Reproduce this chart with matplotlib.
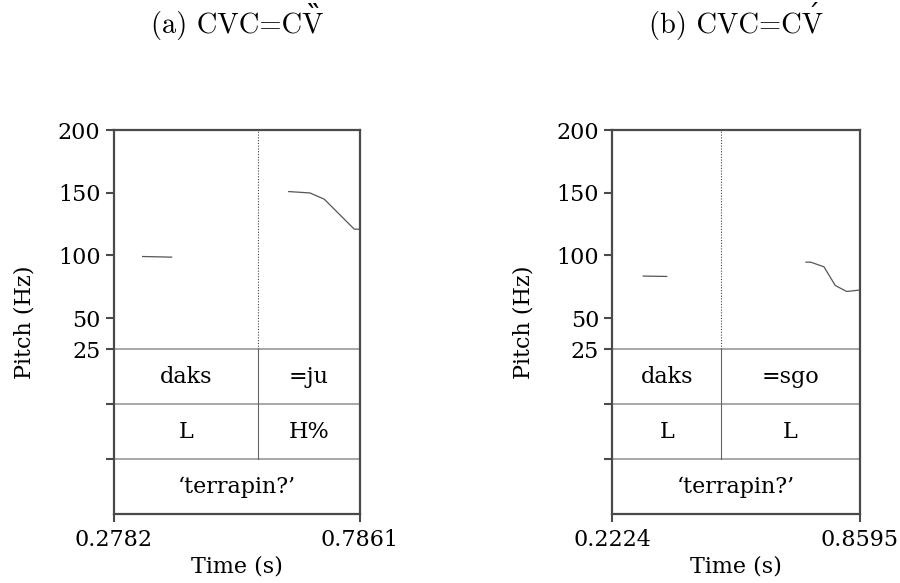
import numpy as np
import matplotlib.pyplot as plt

# panel (a)
a_xlim = [0.2782, 0.7861]
a_t1 = [0.3380, 0.3978]
a_f1 = [99.1, 98.6]
a_t2 = [0.6391, 0.6830, 0.7125, 0.7743, 0.7861]
a_f2 = [150.9, 149.8, 144.8, 120.9, 120.9]
a_bound = 0.5758
a_words = ['daks', '=ju']
a_tones = ['L', 'H%']

# panel (b)
b_xlim = [0.2224, 0.8595]
b_t1 = [0.3022, 0.3625]
b_f1 = [83.5, 83.2]
b_t2 = [0.7212, 0.7333, 0.7675, 0.7966, 0.8260, 0.8584]
b_f2 = [94.6, 94.6, 90.9, 76.0, 71.2, 72.3]
b_bound = 0.5031
b_words = ['daks', '=sgo']
b_tones = ['L', 'L']

gloss = '\u2018terrapin?\u2019'
yticks = [25, 50, 100, 150, 200]
titles = ['(a) CVC=CV', '(b) CVC=CV']
accents = ['\u02f5', '\u00b4']  # double grave / acute over the last V
acc_raise = [0.58, 0.3]  # baseline shift of the accent, in em

plt.rcParams['font.family'] = 'DejaVu Serif'
fig = plt.figure(figsize=(9, 5.83), dpi=100)
renderer = fig.canvas.get_renderer()

frame = '#4a4a4a'
tiercol = '#a0a0a0'
fmin, fmax = 25, 200
th = (fmax - fmin) / 4.0  # height of one annotation tier
ymin = fmin - 3 * th
tsize = 20.5


def panel(pos, xlim, t1, f1, t2, f2, bound, words, tones, title, acc, rise):
    ax = fig.add_axes(pos)
    ax.set_xlim(xlim)
    ax.set_ylim(ymin, fmax)
    ax.plot(t1, f1, color='#555555', lw=0.9)
    ax.plot(t2, f2, color='#555555', lw=0.9)

    # tier lines
    for k in range(3):
        ax.axhline(fmin - k * th, color=tiercol, lw=1.3, zorder=1)
    ax.plot([bound, bound], [fmin, fmax], color='#444444', lw=0.8, ls=(0, (1, 1.5)))
    ax.plot([bound, bound], [fmin - 2 * th, fmin], color='#666666', lw=0.8)

    mid1 = (xlim[0] + bound) / 2
    mid2 = (bound + xlim[1]) / 2
    ax.text(mid1, fmin - 0.5 * th, words[0], ha='center', va='center', fontsize=16)
    ax.text(mid2, fmin - 0.5 * th, words[1], ha='center', va='center', fontsize=16)
    ax.text(mid1, fmin - 1.5 * th, tones[0], ha='center', va='center', fontsize=16)
    ax.text(mid2, fmin - 1.5 * th, tones[1], ha='center', va='center', fontsize=16)
    ax.text(np.mean(xlim), fmin - 2.5 * th, gloss, ha='center', va='center', fontsize=16)

    ax.set_yticks(yticks + [fmin - th, fmin - 2 * th])
    ax.set_yticklabels([str(v) for v in yticks] + ['', ''])
    ax.set_xticks(xlim)
    ax.set_xticklabels(['%.4f' % v for v in xlim])
    ax.tick_params(labelsize=16, color=frame, width=1.5, length=6)
    ax.tick_params(axis='x', pad=5)
    for s in ax.spines.values():
        s.set_color(frame)
        s.set_linewidth(1.6)
    ax.set_xlabel('Time (s)', fontsize=16, labelpad=3)
    ax.set_ylabel('Pitch (Hz)', fontsize=16, labelpad=16)

    # title, with the accent placed over the final V
    cx = pos[0] + pos[2] / 2
    base = 0.9434
    t = fig.text(cx, base, title, ha='center', va='baseline', fontsize=tsize,
                 family='cmr10')
    bb = t.get_window_extent(renderer)
    em = tsize * 100 / 72.0
    vx = (bb.x1 - 0.36 * em) / fig.bbox.width
    vy = base + rise * em / fig.bbox.height
    fig.text(vx, vy, acc, ha='center', va='baseline', fontsize=tsize,
             family=['DejaVu Serif', 'Noto Sans', 'DejaVu Sans'])
    return ax


panel([0.1263, 0.1184, 0.2737, 0.6586], a_xlim, a_t1, a_f1, a_t2, a_f2,
      a_bound, a_words, a_tones, titles[0], accents[0], acc_raise[0])
panel([0.6803, 0.1184, 0.2749, 0.6586], b_xlim, b_t1, b_f1, b_t2, b_f2,
      b_bound, b_words, b_tones, titles[1], accents[1], acc_raise[1])

fig.savefig('out.png', dpi=100)
